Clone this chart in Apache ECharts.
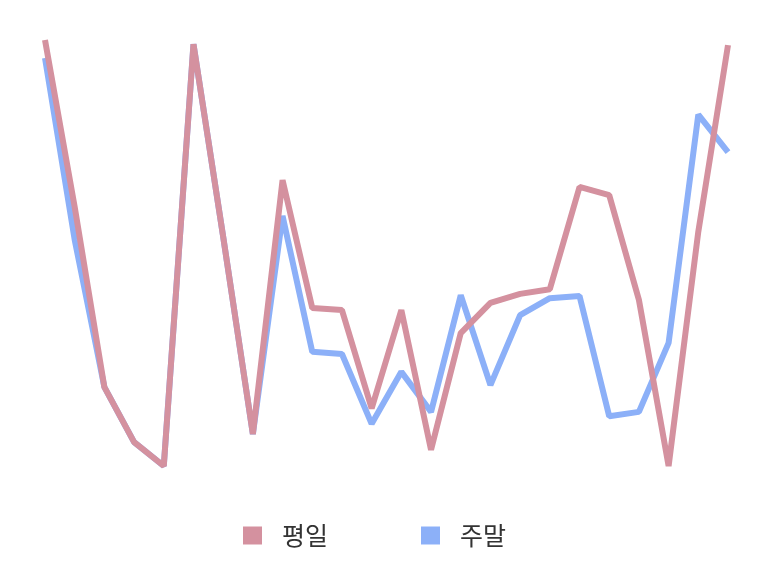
<!DOCTYPE html>
<html>
<head>
<meta charset="utf-8">
<script src="https://cdn.jsdelivr.net/npm/echarts@6/dist/echarts.min.js"></script>
<style>html,body{margin:0;padding:0;background:#fff;}#c{width:780px;height:572px;}</style>
</head>
<body>
<div id="c"></div>
<script>
var hours = ['0','1','2','3','4','5','6','7','8','9','10','11','12','13','14','15','16','17','18','19','20','21','22','23'];
var weekday = [100, 60.8, 18.5, 5.6, 0, 99, 53.8, 7.5, 67.1, 37.1, 36.6, 13.5, 36.6, 3.8, 31.2, 38.3, 40.4, 41.5, 65.5, 63.6, 39.0, 0, 55.0, 98.8];
var weekend = [95.8, 53.1, 18.5, 5.6, 0, 99, 53.8, 7.5, 58.7, 26.8, 26.3, 9.9, 22.1, 12.7, 40.1, 19.0, 35.4, 39.4, 39.9, 11.7, 12.7, 28.9, 82.5, 73.7];
var names = ['평일', '주말'];
var colors = ['#d4919f', '#8cb0f8'];

var chart = echarts.init(document.getElementById('c'));
chart.setOption({
  animation: false,
  textStyle: { fontFamily: '"Noto Sans CJK KR", "Noto Sans", sans-serif' },
  grid: { left: 45, right: 52, top: 40, bottom: 106 },
  legend: {
    data: names,
    left: 238,
    top: 518,
    icon: 'rect',
    itemWidth: 19,
    itemHeight: 18,
    itemGap: 93,
    textStyle: { fontSize: 25, color: '#333', padding: [0, 0, 0, 15], fontFamily: '"Noto Sans CJK KR", sans-serif' }
  },
  xAxis: { type: 'category', data: hours, boundaryGap: false, show: false },
  yAxis: { type: 'value', min: 0, max: 100, show: false },
  series: [
    { name: names[1], type: 'line', data: weekend, showSymbol: false, symbol: 'none',
      itemStyle: { color: colors[1] }, lineStyle: { width: 6, color: colors[1] } },
    { name: names[0], type: 'line', data: weekday, showSymbol: false, symbol: 'none',
      itemStyle: { color: colors[0] }, lineStyle: { width: 6, color: colors[0] } }
  ]
});
</script>
</body>
</html>
